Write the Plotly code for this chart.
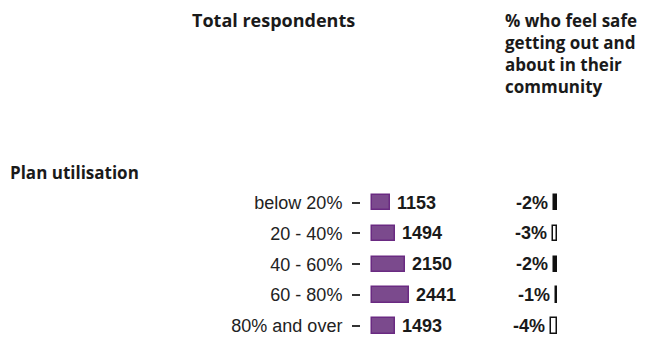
import plotly.graph_objects as go

# ---- data ----
categories = ["below 20%", "20 - 40%", "40 - 60%", "60 - 80%", "80% and over"]
respondents = [1153, 1494, 2150, 2441, 1493]
pct_safe = [-2, -3, -2, -1, -4]
significant = [True, False, True, True, False]
group_title = "Plan utilisation"
col1_title = "Total respondents"
col2_title = "% who feel safe<br>getting out and<br>about in their<br>community"

W, H = 646, 338
OFF = 8  # page body margin offset
ypos = list(range(len(categories)))

# layout in (screen) pixels
row0_px, row_step = 202.5 - OFF, 30.875
yr = [(H - row0_px) / row_step, -row0_px / row_step]

# panel 1
p1_left, p1_zero, p1_right, p1_scale = 361 - OFF, 372 - OFF, 490 - OFF, 0.0152
x1_range = [(p1_left - p1_zero) / p1_scale, (p1_right - p1_zero) / p1_scale]
# panel 2
p2_left, p2_zero, p2_right, p2_scale = 500 - OFF, 557 - OFF, 600 - OFF, 1.5
x2_range = [(p2_left - p2_zero) / p2_scale, (p2_right - p2_zero) / p2_scale]

fig = go.Figure()
fig.add_trace(go.Bar(
    x=respondents, y=ypos, orientation="h", width=0.5,
    marker=dict(color="#7b4a8d", line=dict(color="#6a2a82", width=1.5)),
    xaxis="x", yaxis="y", showlegend=False, hoverinfo="x"))
fig.add_trace(go.Bar(
    x=pct_safe, y=ypos, orientation="h", width=0.5,
    marker=dict(color=["#111111" if s else "#ffffff" for s in significant],
                line=dict(color="#111111", width=1.5)),
    xaxis="x2", yaxis="y2", showlegend=False, hoverinfo="x"))

vfont = dict(family="Liberation Sans", size=18, color="#1a1a1a", weight="bold")
ann = []
for v, yy in zip(respondents, ypos):
    ann.append(dict(x=v, y=yy, xref="x", yref="y", text=str(v), showarrow=False,
                    xanchor="left", xshift=5, font=vfont))
for v, yy in zip(pct_safe, ypos):
    ann.append(dict(x=v, y=yy, xref="x2", yref="y2", text=f"{v}%", showarrow=False,
                    xanchor="right", xshift=-4, font=vfont))
tfont = dict(family="Open Sans", size=18, color="#1a1a1a", weight="bold")
tfont2 = dict(family="Open Sans", size=17, color="#1a1a1a", weight="bold")
ann.append(dict(x=(190 - OFF) / W, y=1 - (6 - OFF) / H, xref="paper", yref="paper", text=col1_title,
                showarrow=False, xanchor="left", yanchor="top", font=tfont))
ann.append(dict(x=(503 - OFF) / W, y=1 - (7 - OFF) / H, xref="paper", yref="paper", text=col2_title,
                showarrow=False, xanchor="left", yanchor="top", align="left", font=tfont2))
ann.append(dict(x=(8 - OFF) / W, y=1 - (173 - OFF) / H, xref="paper", yref="paper", text=group_title,
                showarrow=False, xanchor="left", yanchor="middle", font=tfont2))

fig.update_layout(
    width=W, height=H, margin=dict(l=0, r=0, t=0, b=0),
    paper_bgcolor="white", plot_bgcolor="white",
    bargap=0, annotations=ann,
    xaxis=dict(domain=[p1_left / W, p1_right / W], range=x1_range, visible=False, fixedrange=True),
    xaxis2=dict(domain=[p2_left / W, p2_right / W], range=x2_range, visible=False, fixedrange=True),
    yaxis=dict(domain=[0, 1], range=yr, tickvals=ypos, ticktext=categories,
               ticks="outside", ticklen=8, tickwidth=1.5, tickcolor="#333333",
               ticklabelstandoff=6, showgrid=False, zeroline=False, showline=False,
               tickfont=dict(family="Liberation Sans", size=18, color="#222222"), fixedrange=True),
    yaxis2=dict(domain=[0, 1], range=yr, anchor="x2", visible=False, fixedrange=True),
)

fig.write_html("out.html")
